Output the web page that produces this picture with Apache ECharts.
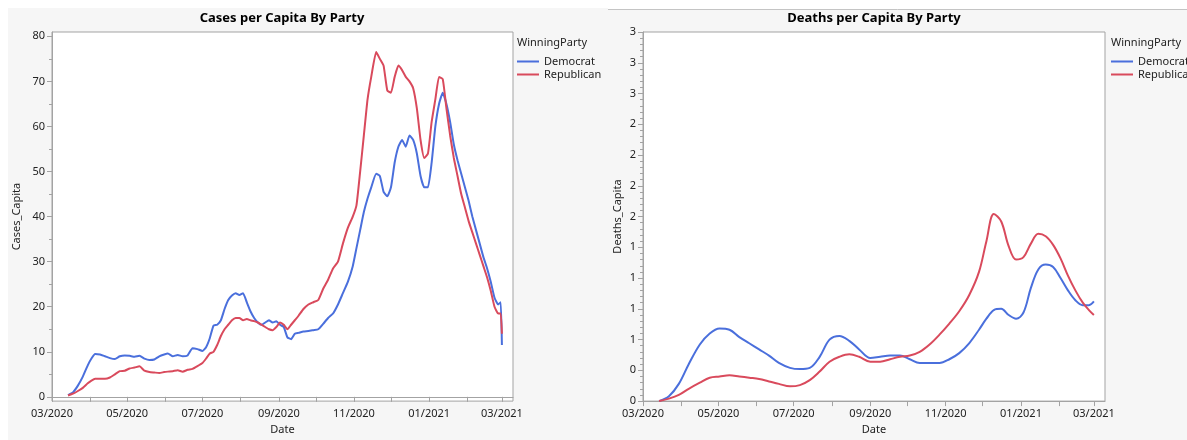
<!DOCTYPE html>
<html>
<head>
<meta charset="utf-8">
<script src="https://cdn.jsdelivr.net/npm/echarts/dist/echarts.min.js"></script>
<style>
  html, body { margin: 0; padding: 0; background: #ffffff; }
  #chart { width: 1187px; height: 440px; }
</style>
</head>
<body>
<div id="chart"></div>
<script>
// ---- Cases per capita (7-day average), sampled every few days ----
const caseDates = [
  '2020-03-14','2020-03-18','2020-03-22','2020-03-26','2020-03-30','2020-04-02','2020-04-05','2020-04-09',
  '2020-04-13','2020-04-17','2020-04-21','2020-04-25','2020-04-29','2020-05-03','2020-05-07','2020-05-11',
  '2020-05-15','2020-05-19','2020-05-23','2020-05-27','2020-05-31','2020-06-03','2020-06-07','2020-06-11',
  '2020-06-15','2020-06-19','2020-06-23','2020-06-27','2020-07-01','2020-07-04','2020-07-07','2020-07-10',
  '2020-07-13','2020-07-16','2020-07-19','2020-07-22','2020-07-25','2020-07-28','2020-07-31','2020-08-03',
  '2020-08-06','2020-08-09','2020-08-12','2020-08-15','2020-08-18','2020-08-21','2020-08-24','2020-08-27',
  '2020-08-30','2020-09-02','2020-09-05','2020-09-08','2020-09-11','2020-09-14','2020-09-17','2020-09-21',
  '2020-09-25','2020-09-29','2020-10-03','2020-10-07','2020-10-11','2020-10-15','2020-10-19','2020-10-23',
  '2020-10-27','2020-10-31','2020-11-03','2020-11-06','2020-11-09','2020-11-12','2020-11-15','2020-11-19',
  '2020-11-22','2020-11-25','2020-11-28','2020-12-01','2020-12-04','2020-12-07','2020-12-10','2020-12-13',
  '2020-12-16','2020-12-19','2020-12-22','2020-12-25','2020-12-28','2020-12-31','2021-01-03','2021-01-06',
  '2021-01-09','2021-01-12','2021-01-15','2021-01-18','2021-01-21','2021-01-24','2021-01-27','2021-01-30',
  '2021-02-02','2021-02-05','2021-02-08','2021-02-11','2021-02-14','2021-02-17','2021-02-20','2021-02-23',
  '2021-02-26','2021-02-28','2021-03-01'
];
const demCases = [
  0.4, 1.0, 2.5, 4.5, 7.0, 8.5, 9.5, 9.4,
  9.0, 8.6, 8.4, 9.0, 9.2, 9.1, 8.9, 9.1,
  8.5, 8.2, 8.3, 9.0, 9.4, 9.6, 9.0, 9.3,
  9.0, 9.2, 10.8, 10.6, 10.2, 11.0, 13.0, 15.8,
  16.0, 17.0, 19.5, 21.5, 22.5, 23.0, 22.6, 23.0,
  21.0, 19.0, 17.5, 16.5, 16.0, 16.5, 17.0, 16.5,
  16.8, 16.0, 15.5, 13.2, 12.8, 14.0, 14.2, 14.5,
  14.6, 14.8, 15.0, 16.2, 17.5, 18.5, 20.5, 23.0,
  25.5, 29.0, 33.0, 37.0, 41.0, 44.0, 46.5, 49.5,
  49.0, 45.5, 44.5, 46.5, 52.0, 55.5, 57.0, 55.5,
  58.0, 57.0, 54.0, 49.0, 46.5, 46.5, 52.0, 60.0,
  65.0, 67.5, 65.0, 61.0, 56.0, 52.5, 49.5, 46.5,
  43.5, 40.0, 37.0, 34.0, 31.0, 28.5, 25.5, 22.0,
  20.5, 21.0, 11.5
];
const repCases = [
  0.3, 0.7, 1.3, 2.0, 3.0, 3.6, 4.0, 4.0,
  4.0, 4.3, 5.0, 5.7, 5.8, 6.3, 6.5, 6.8,
  5.8, 5.5, 5.4, 5.3, 5.5, 5.6, 5.7, 5.9,
  5.6, 6.0, 6.2, 6.8, 7.5, 8.5, 9.6, 10.0,
  11.5, 13.5, 15.0, 16.0, 17.0, 17.5, 17.5, 17.0,
  17.3, 17.0, 16.8, 16.5, 16.0, 15.5, 15.0, 14.8,
  15.5, 16.5, 16.0, 15.0, 16.0, 17.0, 18.0, 19.5,
  20.5, 21.0, 21.5, 24.0, 26.0, 28.5, 30.0, 34.0,
  37.5, 40.0, 42.5, 50.0, 58.0, 66.0, 71.0, 76.5,
  75.0, 73.5, 68.0, 67.5, 71.0, 73.5, 72.5, 71.0,
  70.0, 68.5, 64.0, 57.0, 53.0, 54.0, 61.0, 66.0,
  71.0, 70.5, 64.0, 58.0, 53.0, 49.0, 45.0, 42.0,
  39.0, 36.5, 34.0, 31.5, 29.0, 26.5, 23.5, 20.0,
  18.5, 18.5, 14.0
];

// ---- Deaths per capita (smoothed) ----
const deathDates = [
  '2020-03-14','2020-03-22','2020-03-30','2020-04-07','2020-04-16','2020-04-24','2020-05-02','2020-05-10',
  '2020-05-18','2020-05-26','2020-06-03','2020-06-11','2020-06-19','2020-06-28','2020-07-06','2020-07-14',
  '2020-07-22','2020-07-30','2020-08-07','2020-08-15','2020-08-23','2020-09-01','2020-09-09','2020-09-17',
  '2020-09-25','2020-10-03','2020-10-11','2020-10-19','2020-10-27','2020-11-04','2020-11-12','2020-11-20',
  '2020-11-28','2020-12-04','2020-12-10','2020-12-16','2020-12-22','2020-12-28','2021-01-03','2021-01-09',
  '2021-01-15','2021-01-21','2021-01-27','2021-02-02','2021-02-08','2021-02-14','2021-02-20','2021-02-25',
  '2021-03-01'
];
const demDeaths = [
  0.00, 0.04, 0.14, 0.30, 0.46, 0.55, 0.59, 0.58,
  0.52, 0.47, 0.42, 0.37, 0.31, 0.27, 0.26, 0.27,
  0.36, 0.50, 0.53, 0.49, 0.42, 0.35, 0.36, 0.37,
  0.37, 0.34, 0.31, 0.31, 0.31, 0.34, 0.39, 0.47,
  0.58, 0.67, 0.74, 0.75, 0.70, 0.67, 0.72, 0.92,
  1.07, 1.11, 1.09, 1.00, 0.90, 0.82, 0.78, 0.78,
  0.81
];
const repDeaths = [
  0.00, 0.02, 0.05, 0.10, 0.15, 0.19, 0.20, 0.21,
  0.20, 0.19, 0.18, 0.16, 0.14, 0.12, 0.13, 0.17,
  0.24, 0.32, 0.36, 0.38, 0.36, 0.32, 0.32, 0.34,
  0.36, 0.37, 0.40, 0.46, 0.54, 0.63, 0.73, 0.86,
  1.05, 1.30, 1.52, 1.46, 1.26, 1.15, 1.17, 1.28,
  1.36, 1.34, 1.27, 1.16, 1.02, 0.90, 0.80, 0.74,
  0.70
];

// ---- Axis ticks ----
const monthTicks = [
  '2020-03-01','2020-04-01','2020-05-01','2020-06-01','2020-07-01','2020-08-01','2020-09-01',
  '2020-10-01','2020-11-01','2020-12-01','2021-01-01','2021-02-01','2021-03-01'
];
const monthLabels = ['2020-03-01','2020-05-01','2020-07-01','2020-09-01','2020-11-01','2021-01-01','2021-03-01'];
const dateStart = '2020-03-01';
const dateEnd = '2021-03-10';
const caseMajorTicks = [0, 10, 20, 30, 40, 50, 60, 70, 80];
const caseMinorTicks = [5, 15, 25, 35, 45, 55, 65, 75];

const seriesNames = ['Democrat', 'Republican'];
const colors = ['#4a6fdc', '#d94a5c'];

const FONT = '"Noto Sans", "DejaVu Sans", sans-serif';
const TEXT = '#222';
const AXIS = '#a3a3a3';

// dates are handled as millisecond timestamps on a plain value axis
function ts(s) { const p = s.split('-').map(Number); return new Date(p[0], p[1] - 1, p[2]).getTime(); }
function pad(n) { return (n < 10 ? '0' : '') + n; }
function monthFmt(v) {
  const d = new Date(v);
  return pad(d.getMonth() + 1) + '/' + d.getFullYear();
}
function pairs(dates, vals) { return dates.map((d, i) => [ts(d), vals[i]]); }

function xAxisFor(gridIndex) {
  return {
    type: 'value', gridIndex,
    min: ts(dateStart), max: ts(dateEnd),
    name: 'Date', nameLocation: 'middle', nameGap: 21,
    nameTextStyle: { fontFamily: FONT, fontSize: 11, color: TEXT },
    axisLine: { show: true, lineStyle: { color: AXIS } },
    axisTick: { show: true, length: 5, customValues: monthTicks.map(ts), lineStyle: { color: AXIS } },
    axisLabel: { customValues: monthLabels.map(ts), formatter: monthFmt, fontFamily: FONT, fontSize: 11,
                 color: TEXT, margin: 7, hideOverlap: false },
    splitLine: { show: false }
  };
}

const chart = echarts.init(document.getElementById('chart'), null, { renderer: 'canvas' });

const option = {
  animation: false,
  backgroundColor: '#ffffff',
  graphic: [
    { type: 'rect', silent: true, z: -10, shape: { x: 8, y: 8, width: 1179, height: 432 }, style: { fill: '#f6f6f6' } },
    { type: 'rect', silent: true, z: -9, shape: { x: 608, y: 0, width: 579, height: 9 }, style: { fill: '#ffffff' } },
    { type: 'line', silent: true, z: -8, shape: { x1: 608, y1: 9.5, x2: 1187, y2: 9.5 }, style: { stroke: '#c4c4c4', lineWidth: 1 } },
    { type: 'text', x: 282, y: 12, style: { text: 'Cases per Capita By Party', font: 'bold 13px ' + FONT, fill: '#000', textAlign: 'center' } },
    { type: 'text', x: 874, y: 12, style: { text: 'Deaths per Capita By Party', font: 'bold 13px ' + FONT, fill: '#000', textAlign: 'center' } },
    { type: 'text', x: 517, y: 37, style: { text: 'WinningParty', font: '11px ' + FONT, fill: TEXT } },
    { type: 'text', x: 1111, y: 37, style: { text: 'WinningParty', font: '11px ' + FONT, fill: TEXT } }
  ],
  legend: [
    { data: seriesNames, orient: 'vertical', left: 517, top: 56, icon: 'rect', itemWidth: 22, itemHeight: 2,
      itemGap: 2, padding: 0, textStyle: { fontFamily: FONT, fontSize: 11, color: TEXT } },
    { data: seriesNames, orient: 'vertical', left: 1111, top: 56, icon: 'rect', itemWidth: 22, itemHeight: 2,
      itemGap: 2, padding: 0, textStyle: { fontFamily: FONT, fontSize: 11, color: TEXT } }
  ],
  grid: [
    { left: 52, top: 32, width: 461, height: 374, show: true, backgroundColor: '#ffffff', borderColor: AXIS, borderWidth: 1 },
    { left: 643, top: 32, width: 462, height: 374, show: true, backgroundColor: '#ffffff', borderColor: AXIS, borderWidth: 1 }
  ],
  xAxis: [xAxisFor(0), xAxisFor(1)],
  yAxis: [
    {
      type: 'value', gridIndex: 0, position: 'left', min: -0.94, max: 80.96,
      name: 'Cases_Capita', nameLocation: 'middle', nameGap: 30,
      nameTextStyle: { fontFamily: FONT, fontSize: 11, color: TEXT },
      axisLine: { show: true, lineStyle: { color: AXIS } },
      axisTick: { show: true, length: 5, customValues: caseMajorTicks, lineStyle: { color: AXIS } },
      axisLabel: { customValues: caseMajorTicks, fontFamily: FONT, fontSize: 11, color: TEXT, margin: 7 },
      splitLine: { show: false }
    },
    {
      // short minor ticks at the fives, drawn on the same left edge
      type: 'value', gridIndex: 0, position: 'left', offset: 0, min: -0.94, max: 80.96,
      axisLine: { show: false },
      axisTick: { show: true, length: 3, customValues: caseMinorTicks, lineStyle: { color: AXIS } },
      axisLabel: { show: false },
      splitLine: { show: false }
    },
    {
      type: 'value', gridIndex: 1, position: 'left', min: 0, max: 3, interval: 0.25,
      name: 'Deaths_Capita', nameLocation: 'middle', nameGap: 20,
      nameTextStyle: { fontFamily: FONT, fontSize: 11, color: TEXT },
      axisLine: { show: true, lineStyle: { color: AXIS } },
      axisTick: { show: true, length: 5, lineStyle: { color: AXIS } },
      minorTick: { show: true, splitNumber: 5, length: 3, lineStyle: { color: AXIS } },
      axisLabel: { formatter: v => String(Math.round(v)), fontFamily: FONT, fontSize: 11, color: TEXT, margin: 7 },
      splitLine: { show: false }
    }
  ],
  series: [
    { name: seriesNames[0], type: 'line', xAxisIndex: 0, yAxisIndex: 0, data: pairs(caseDates, demCases),
      showSymbol: false, smooth: 0.15, lineStyle: { width: 2, color: colors[0] }, itemStyle: { color: colors[0] } },
    { name: seriesNames[1], type: 'line', xAxisIndex: 0, yAxisIndex: 0, data: pairs(caseDates, repCases),
      showSymbol: false, smooth: 0.15, lineStyle: { width: 2, color: colors[1] }, itemStyle: { color: colors[1] } },
    { name: seriesNames[0], type: 'line', xAxisIndex: 1, yAxisIndex: 2, data: pairs(deathDates, demDeaths),
      showSymbol: false, smooth: 0.35, lineStyle: { width: 2, color: colors[0] }, itemStyle: { color: colors[0] } },
    { name: seriesNames[1], type: 'line', xAxisIndex: 1, yAxisIndex: 2, data: pairs(deathDates, repDeaths),
      showSymbol: false, smooth: 0.35, lineStyle: { width: 2, color: colors[1] }, itemStyle: { color: colors[1] } }
  ]
};

chart.setOption(option);
</script>
</body>
</html>
